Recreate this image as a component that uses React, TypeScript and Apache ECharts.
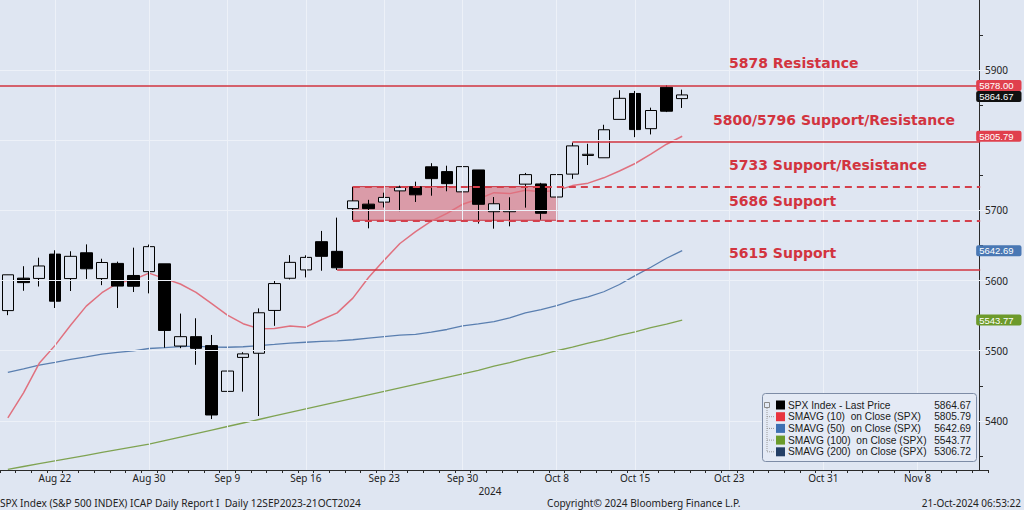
import React, { useEffect, useRef } from 'react';
import * as echarts from 'echarts';

// ---------- data ----------
const dates = [
  'Aug 19', 'Aug 20', 'Aug 21', 'Aug 22', 'Aug 23', 'Aug 26', 'Aug 27', 'Aug 28', 'Aug 29', 'Aug 30',
  'Sep 3', 'Sep 4', 'Sep 5', 'Sep 6', 'Sep 9', 'Sep 10', 'Sep 11', 'Sep 12', 'Sep 13', 'Sep 16',
  'Sep 17', 'Sep 18', 'Sep 19', 'Sep 20', 'Sep 23', 'Sep 24', 'Sep 25', 'Sep 26', 'Sep 27', 'Sep 30',
  'Oct 1', 'Oct 2', 'Oct 3', 'Oct 4', 'Oct 7', 'Oct 8', 'Oct 9', 'Oct 10', 'Oct 11', 'Oct 14',
  'Oct 15', 'Oct 16', 'Oct 17', 'Oct 18', 'Oct 21', 'Oct 22', 'Oct 23', 'Oct 24', 'Oct 25', 'Oct 28',
  'Oct 29', 'Oct 30', 'Oct 31', 'Nov 1', 'Nov 4', 'Nov 5', 'Nov 6', 'Nov 7', 'Nov 8', 'Nov 11',
  'Nov 12', 'Nov 13', 'Nov 14',
];
const labelDates = ['Aug 22', 'Aug 30', 'Sep 9', 'Sep 16', 'Sep 23', 'Sep 30', 'Oct 8', 'Oct 15', 'Oct 23', 'Oct 31', 'Nov 8'];

const opens = [
  5557.23, 5603.5, 5603.09, 5637.77, 5602.89, 5639.66, 5602.89, 5624.51, 5607.3, 5612.74,
  5623.89, 5506.68, 5520.08, 5507.33, 5442.07, 5490.51, 5496.42, 5557.48, 5603.34, 5615.21,
  5655.51, 5641.68, 5702.63, 5709.0, 5711.9, 5727.89, 5733.65, 5762.22, 5755.36, 5726.52,
  5757.73, 5698.19, 5698.19, 5737.52, 5737.8, 5719.14, 5751.8, 5778.36, 5775.09, 5829.81,
  5866.74, 5816.58, 5875.62, 5859.43,
];
const highs = [
  5608.3, 5620.51, 5632.68, 5643.22, 5641.82, 5651.62, 5631.18, 5627.03, 5646.95, 5651.37,
  5623.89, 5552.99, 5546.3, 5522.47, 5484.2, 5497.91, 5560.41, 5600.71, 5636.27, 5636.05,
  5670.81, 5689.75, 5733.57, 5715.14, 5725.36, 5735.32, 5741.03, 5767.37, 5763.78, 5765.14,
  5757.73, 5719.14, 5718.78, 5753.48, 5739.34, 5757.6, 5796.8, 5795.03, 5822.13, 5871.41,
  5870.36, 5846.52, 5878.46, 5872.17,
];
const lows = [
  5550.74, 5585.5, 5591.57, 5560.95, 5585.16, 5602.34, 5593.48, 5560.95, 5583.71, 5581.79,
  5504.33, 5503.66, 5480.0, 5402.62, 5434.49, 5441.72, 5406.96, 5535.5, 5601.65, 5604.53,
  5614.05, 5615.08, 5686.42, 5674.49, 5704.22, 5698.99, 5712.06, 5721.01, 5727.34, 5703.53,
  5681.28, 5674.0, 5677.37, 5704.0, 5686.85, 5714.56, 5745.02, 5764.76, 5775.09, 5829.81,
  5804.48, 5808.34, 5840.25, 5846.11,
];
const closes = [
  5608.25, 5597.12, 5620.85, 5570.64, 5634.61, 5616.84, 5625.8, 5592.18, 5591.96, 5648.4,
  5528.93, 5520.07, 5503.41, 5408.42, 5471.05, 5495.52, 5554.13, 5595.76, 5626.02, 5633.09,
  5634.58, 5618.26, 5713.64, 5702.55, 5718.57, 5732.93, 5722.26, 5745.37, 5738.17, 5762.48,
  5708.75, 5709.54, 5699.94, 5751.07, 5695.94, 5751.13, 5792.04, 5780.05, 5815.03, 5859.85,
  5815.26, 5842.47, 5841.47, 5864.67,
];
const sma10 = [
  5404.3, 5440.0, 5482.1, 5507.3, 5536.3, 5563.6, 5582.7, 5596.4, 5601.3, 5610.7,
  5602.8, 5595.1, 5583.3, 5567.1, 5550.8, 5538.6, 5531.5, 5531.8, 5535.2, 5533.6,
  5544.2, 5554.0, 5575.0, 5604.4, 5629.2, 5652.9, 5669.7, 5684.7, 5695.9, 5708.8,
  5716.3, 5725.4, 5724.0, 5728.9, 5726.6, 5728.4, 5735.4, 5738.9, 5746.5, 5756.3,
  5766.9, 5780.2, 5794.4, 5805.79,
];
const sma50 = [
  5469.2, 5474.2, 5479.4, 5483.3, 5487.6, 5491.3, 5495.2, 5497.6, 5499.7, 5503.2,
  5504.5, 5505.9, 5506.6, 5505.2, 5505.0, 5505.7, 5507.3, 5509.0, 5510.8, 5512.1,
  5513.3, 5514.1, 5515.7, 5518.1, 5520.2, 5522.2, 5523.3, 5526.4, 5530.3, 5535.4,
  5538.3, 5541.4, 5546.9, 5553.9, 5558.6, 5564.4, 5571.5, 5576.7, 5584.1, 5594.4,
  5607.0, 5619.0, 5631.8, 5642.69,
];
const sma100 = [
  5331, 5335, 5339, 5343, 5347, 5351, 5355, 5359, 5363, 5367,
  5372, 5377, 5382, 5387, 5392, 5397, 5402, 5407, 5412, 5417,
  5422, 5427, 5432, 5437, 5442, 5447, 5452, 5457, 5462, 5467,
  5472, 5478, 5483, 5489, 5494, 5500, 5505, 5511, 5516, 5522,
  5527, 5533, 5538, 5543.77,
];

// 5800 is hidden under the 5805.79 value tag in the reference
const yLabelValues = [5400, 5500, 5600, 5700, 5900];
const yGridValues = [5400, 5500, 5600, 5700, 5800, 5900];
const yTickValues = [5350, 5400, 5450, 5500, 5550, 5600, 5650, 5700, 5750, 5800, 5850, 5900, 5950];

const resistance = 5878;
const supportResistance1 = 5798;
const zoneTop = 5734;
const zoneBottom = 5686;
const support = 5615;
const annotationTexts = ['5878 Resistance', '5800/5796 Support/Resistance', '5733 Support/Resistance', '5686 Support', '5615 Support'];

const lastPrice = 5864.67;
const tagSma10 = 5805.79;
const tagSma50 = 5642.69;
const tagSma100 = 5543.77;

const legendNames = [
  'SPX Index - Last Price',
  'SMAVG (10)  on Close (SPX)',
  'SMAVG (50)  on Close (SPX)',
  'SMAVG (100)  on Close (SPX)',
  'SMAVG (200)  on Close (SPX)',
];
const legendValues = ['5864.67', '5805.79', '5642.69', '5543.77', '5306.72'];

const footerLeft = 'SPX Index (S&P 500 INDEX) ICAP Daily Report I  Daily 12SEP2023-21OCT2024';
const footerMid = 'Copyright\u00A9 2024 Bloomberg Finance L.P.';
const footerRight = '21-Oct-2024 06:53:22';
const yearLabel = '2024';

// ---------- styles ----------
const BG = '#dfe6f2';
const FONT = "'Noto Sans', sans-serif";
const SMALL = "'Liberation Sans', Arial, sans-serif";
const RED = '#d2343f';
const legendColors = ['#000000', '#e8343f', '#3d70b2', '#6b9b2a', '#243f66'];

export default function App() {
  const ref = useRef<HTMLDivElement>(null);

  useEffect(() => {
    const chart = echarts.init(ref.current!, null, { renderer: 'svg' });
    const last = dates[dates.length - 1];

    const candleData = opens.map((o, i) => [o, closes[i], lows[i], highs[i]]);

    const tag = (v: number, bg: string, dy = 0) => [
      {
        xAxis: dates[dates.length - 2],
        yAxis: v,
        lineStyle: { color: 'transparent', width: 0 },
        label: {
          show: true,
          position: 'end',
          distance: -4,
          offset: [0, dy],
          formatter: () => v.toFixed(2),
          color: '#ffffff',
          backgroundColor: bg,
          fontSize: 9.5,
          lineHeight: 10,
          fontFamily: SMALL,
          padding: [1, 8, 0, 3],
          borderRadius: 2,
        },
      },
      { xAxis: last, yAxis: v },
    ];

    const annPos = [
      [729, 63],
      [713, 120],
      [729, 165],
      [729, 201],
      [729, 253],
    ];

    const rowY = (i: number) => 405 + i * 11.7;

    const graphic: any[] = [];
    annotationTexts.forEach((t, i) => {
      graphic.push({
        type: 'text',
        x: annPos[i][0],
        y: annPos[i][1],
        z: 100,
        style: { text: t, fill: RED, font: "bold 14px 'DejaVu Sans'", align: 'left', verticalAlign: 'middle' },
      });
    });
    graphic.push(
      { type: 'text', x: 490, y: 491, z: 100, style: { text: yearLabel, fill: '#222', font: `10px ${FONT}`, align: 'center', verticalAlign: 'middle' } },
      { type: 'text', x: 0, y: 503, z: 100, style: { text: footerLeft, fill: '#222', font: `10.15px ${FONT}`, align: 'left', verticalAlign: 'middle' } },
      { type: 'text', x: 547, y: 503, z: 100, style: { text: footerMid, fill: '#222', font: `10.1px ${FONT}`, align: 'left', verticalAlign: 'middle' } },
      { type: 'text', x: 1021, y: 503, z: 100, style: { text: footerRight, fill: '#222', font: `10px ${FONT}`, align: 'right', verticalAlign: 'middle' } },
    );
    // legend box
    graphic.push({
      type: 'rect',
      z: 100,
      shape: { x: 762.5, y: 393.5, width: 214, height: 68, r: 3 },
      style: { fill: '#e4eaf5', stroke: '#7d8ca6', lineWidth: 1 },
    });
    graphic.push({
      type: 'rect', z: 101,
      shape: { x: 764.5, y: 402.5, width: 5, height: 5 },
      style: { fill: 'none', stroke: '#8a8a8a', lineWidth: 1 },
    });
    graphic.push({
      type: 'line', z: 101,
      shape: { x1: 767, y1: 408, x2: 767, y2: rowY(4) },
      style: { stroke: '#9a9a9a', lineWidth: 1, lineDash: [1, 1] },
    });
    legendNames.forEach((n, i) => {
      const y = rowY(i);
      if (i > 0) {
        graphic.push({
          type: 'line', z: 101,
          shape: { x1: 767, y1: y, x2: 774, y2: y },
          style: { stroke: '#9a9a9a', lineWidth: 1, lineDash: [1, 1] },
        });
      }
      graphic.push({
        type: 'rect', z: 101,
        shape: { x: 776, y: y - 4.5, width: 9, height: 9 },
        style: { fill: legendColors[i] },
      });
      graphic.push({
        type: 'text', z: 101, x: 788, y,
        style: { text: n, fill: '#1a1a1a', font: `10.2px ${SMALL}`, lineHeight: 11, align: 'left', verticalAlign: 'middle' },
      });
      graphic.push({
        type: 'text', z: 101, x: 971, y,
        style: { text: legendValues[i], fill: '#1a1a1a', font: `10.2px ${SMALL}`, lineHeight: 11, align: 'right', verticalAlign: 'middle' },
      });
    });

    const option: any = {
      animation: false,
      backgroundColor: BG,
      grid: { left: -2, right: 36, top: 0, bottom: 40, containLabel: false },
      xAxis: {
        type: 'category',
        data: dates,
        boundaryGap: true,
        axisLine: { show: true, lineStyle: { color: '#2a2a2a', width: 1 } },
        axisTick: { show: true, interval: 0, length: 3, lineStyle: { color: '#2a2a2a' } },
        axisLabel: {
          interval: (_: number, v: string) => labelDates.includes(v),
          color: '#222',
          fontSize: 10,
          fontFamily: FONT,
          margin: 3,
        },
        splitLine: { show: false },
      },
      yAxis: {
        type: 'value',
        position: 'right',
        offset: -9,
        min: 5330,
        max: 6000,
        scale: true,
        axisLine: { show: true, lineStyle: { color: '#2a2a2a', width: 1 } },
        axisTick: { show: true, customValues: yTickValues, length: 4, lineStyle: { color: '#2a2a2a' } },
        axisLabel: {
          customValues: yLabelValues,
          formatter: (v: number) => String(v),
          color: '#222',
          fontSize: 10,
          fontFamily: FONT,
          margin: 6,
        },
        splitLine: { show: false },
      },
      graphic,
      series: [
        {
          name: 'grid',
          type: 'line',
          data: [],
          z: 1,
          silent: true,
          markLine: {
            silent: true,
            symbol: ['none', 'none'],
            label: { show: false },
            lineStyle: { color: '#edf1f8', width: 1, type: 'solid' },
            data: [
              ...labelDates.map((d) => ({ xAxis: d })),
              ...yGridValues.map((v) => ({ yAxis: v })),
            ],
          },
        },
        {
          name: 'SMAVG (100)',
          type: 'line',
          data: sma100,
          symbol: 'none',
          z: 2,
          lineStyle: { color: '#7fa352', width: 1.3 },
        },
        {
          name: 'SMAVG (50)',
          type: 'line',
          data: sma50,
          symbol: 'none',
          z: 2,
          lineStyle: { color: '#5a7fb0', width: 1.3 },
        },
        {
          name: 'SMAVG (10)',
          type: 'line',
          data: sma10,
          symbol: 'none',
          z: 2,
          lineStyle: { color: '#e0717f', width: 1.5 },
        },
        {
          name: 'SPX',
          type: 'candlestick',
          data: candleData,
          barWidth: 12,
          z: 3,
          itemStyle: {
            color: BG,
            color0: '#000000',
            borderColor: '#000000',
            borderColor0: '#000000',
            borderWidth: 1,
          },
        },
        {
          name: 'levels',
          type: 'line',
          data: [],
          z: 4,
          clip: false,
          silent: true,
          markArea: {
            silent: true,
            itemStyle: { color: 'rgba(212,52,66,0.42)', borderColor: '#c83a47', borderWidth: 1 },
            data: [[{ xAxis: 'Sep 19', yAxis: zoneBottom }, { xAxis: 'Oct 8', yAxis: zoneTop }]],
          },
          markLine: {
            silent: true,
            symbol: ['none', 'none'],
            label: { show: false },
            lineStyle: { color: RED, width: 1.6, type: 'solid' },
            data: [
              { yAxis: resistance },
              [{ xAxis: 'Oct 9', yAxis: supportResistance1 }, { xAxis: last, yAxis: supportResistance1 }],
              [
                { xAxis: 'Sep 19', yAxis: zoneTop, lineStyle: { color: '#d4404c', width: 2, type: [7, 5] } },
                { xAxis: last, yAxis: zoneTop },
              ],
              [
                { xAxis: 'Sep 19', yAxis: zoneBottom, lineStyle: { color: '#d4404c', width: 2, type: [7, 5] } },
                { xAxis: last, yAxis: zoneBottom },
              ],
              [{ xAxis: 'Sep 18', yAxis: support }, { xAxis: last, yAxis: support }],
              tag(tagSma100, '#6d9a2b'),
              tag(tagSma50, '#4a78b4'),
              tag(tagSma10, '#e0404d'),
              tag(lastPrice, '#111111', 1.5),
              tag(resistance, '#e0404d'),
            ],
          },
        },
      ],
    };

    chart.setOption(option);
    return () => chart.dispose();
  }, []);

  return (
    <div
      ref={ref}
      style={{ position: 'fixed', left: 0, top: 0, width: 1024, height: 510, background: BG }}
    />
  );
}
